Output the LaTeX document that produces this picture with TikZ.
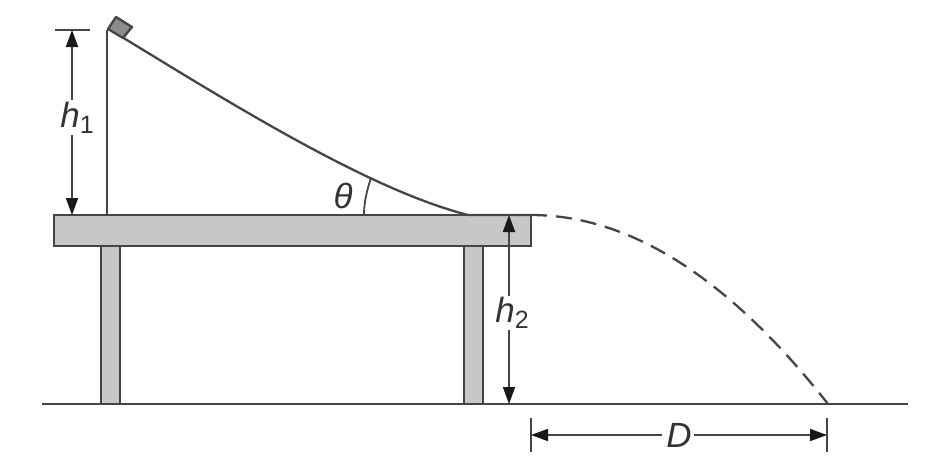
\documentclass[tikz,border=0pt]{standalone}
\usepackage{fontspec}
\setmainfont{Liberation Sans}
\usetikzlibrary{arrows.meta}
\definecolor{inkc}{gray}{0.27}
\definecolor{fillc}{gray}{0.78}
\definecolor{blockc}{gray}{0.55}
\newcommand{\subtxt}[1]{\raisebox{-6pt}{\fontsize{25}{25}\selectfont\upshape #1}}
\tikzset{
  ink/.style={draw=inkc,line width=2.3pt},
  solidpart/.style={ink,fill=fillc,line join=miter,inner sep=0pt,outer sep=0pt},
  dim/.style={draw=inkc,line width=1.8pt,-{Triangle[length=17pt,width=12pt,color=black!90]}},
  tick/.style={draw=inkc,line width=2.2pt},
  lab/.style={inner sep=0pt,text=black!80,font=\fontsize{35}{35}\selectfont\itshape}
}
\begin{document}
\begin{tikzpicture}[x=1pt,y=-1pt]
\useasboundingbox (0,0) rectangle (935,459);
% coordinates
\coordinate (h1top) at (72,30);
\coordinate (h1bot) at (72,215);
\coordinate (h2top) at (509,215);
\coordinate (h2bot) at (509,404);
\coordinate (dl) at (531,435);
\coordinate (dr) at (827,435);
\coordinate (rampstart) at (107,30);
\coordinate (rampbase) at (107,215);
\coordinate (rampend) at (468,215);
\coordinate (edge) at (531,215);
\coordinate (land) at (828,404);
% ground
\draw[ink] (42,404) -- (908,404);
% legs
\node[solidpart,minimum width=19pt,minimum height=158pt] (legl) at (110.5,325) {};
\node[solidpart,minimum width=19pt,minimum height=158pt] (legr) at (473.5,325) {};
% table
\node[solidpart,minimum width=477pt,minimum height=31pt] (tabletop) at (292.5,230.5) {};
% ramp
\draw[ink] (rampstart) -- (rampbase);
\draw[ink] (122,37) .. controls (235,106) and (370,190) .. (rampend) -- (edge);
% block
\draw[ink,fill=blockc,line join=round] (108,29) -- (116,17) -- (132,27) -- (123,38) -- cycle;
% trajectory
\draw[ink,dash pattern=on 16pt off 9pt] (edge) .. controls (630,215) and (729,278) .. (land);
% angle
\draw[draw=inkc,line width=1.8pt] (364,215) .. controls (364,202) and (367,190) .. (371,178);
\node[lab] (theta) at (343,196) {\textit{θ}};
% h1
\draw[tick] (55,30) -- (90,30);
\node[lab] (h1) at (77,118) {h\subtxt{1}};
\draw[dim] (72,100) -- (h1top);
\draw[dim] (72,135) -- (h1bot);
% h2
\node[lab] (h2) at (512,313) {h\subtxt{2}};
\draw[dim] (509,296) -- (h2top);
\draw[dim] (509,330) -- (h2bot);
% D
\draw[tick] (531,418) -- (531,452);
\draw[tick] (827,418) -- (827,452);
\node[lab] (dlab) at (679,435) {D};
\draw[dim] (662,435) -- (dl);
\draw[dim] (694,435) -- (dr);
\end{tikzpicture}
\end{document}
